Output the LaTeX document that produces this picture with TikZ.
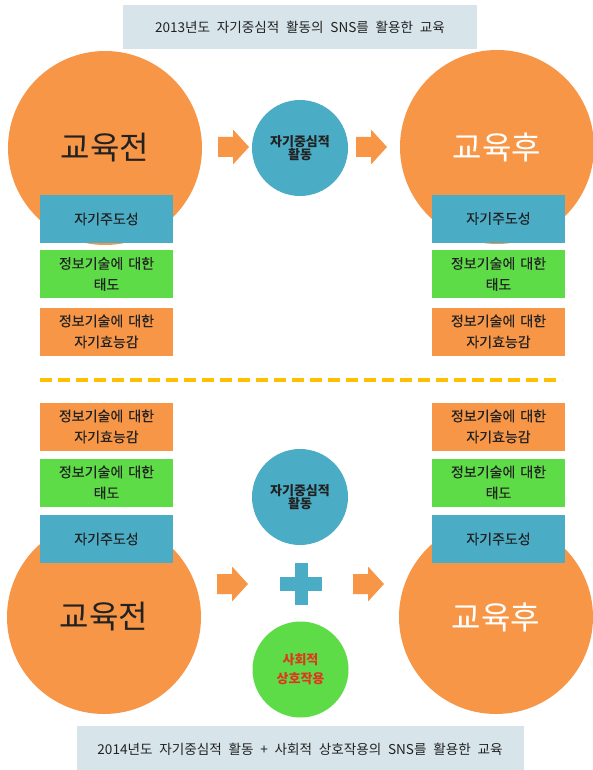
\documentclass[tikz,border=0pt]{standalone}
\usepackage{fontspec}
\setmainfont{Noto Sans CJK KR}[WordSpace=1.5]
\newfontfamily\boxfont{Noto Sans CJK KR}[WordSpace=1.6, FakeBold=0.3]
\newfontfamily\banfont{Noto Sans CJK KR}[WordSpace=2.2]
\usetikzlibrary{calc}
\definecolor{ora}{HTML}{F79646}
\definecolor{aqua}{HTML}{4BACC6}
\definecolor{grn}{HTML}{5EDC48}
\definecolor{ban}{HTML}{D7E5EB}
\definecolor{gold}{HTML}{FFC000}
\definecolor{txt}{HTML}{222222}
\definecolor{redt}{HTML}{E0361E}
\tikzset{
  bigcirc/.style={circle, fill=ora, minimum size=194pt, inner sep=0pt, font=\fontsize{32}{38}\selectfont},
  smallcirc/.style={circle, minimum size=96pt, inner sep=0pt, align=center, font=\fontsize{13}{13}\selectfont\bfseries, text=txt},
  infobox/.style={rectangle, minimum width=133pt, minimum height=48pt, inner sep=0pt, align=center, text=txt, font=\boxfont\fontsize{14}{21}\selectfont},
  banner/.style={rectangle, fill=ban, inner sep=0pt, text=txt, font=\banfont\fontsize{13.6}{15}\selectfont},
  blockarrow/.pic={\fill[ora] (-16,-10) -- (-1,-10) -- (-1,-17.5) -- (15,0) -- (-1,17.5) -- (-1,10) -- (-16,10) -- cycle;},
}
\begin{document}
\begin{tikzpicture}[x=1pt,y=-1pt]
\useasboundingbox (0,0) rectangle (593,770);
\fill[white] (0,0) rectangle (593,770);

% ---------- top section ----------
\node[banner, minimum width=354pt, minimum height=44pt] (tb) at (300,27) {2013년도 자기중심적 활동의 SNS를 활용한 교육};

\node[bigcirc, text=txt] (tpre) at (105,148) {교육전};
\node[bigcirc, text=white] (tpost) at (497,147) {교육후};
\node[smallcirc, fill=aqua] (tact) at (300,148) {자기중심적\\활동};

\pic at (234,147) {blockarrow};
\pic at (372,147) {blockarrow};

\node[infobox, fill=aqua] (tl1) at (106.5,219) {자기주도성};
\node[infobox, fill=grn] (tl2) at (106.5,274) {정보기술에 대한\\태도};
\node[infobox, fill=ora] (tl3) at (106.5,331.5) {정보기술에 대한\\자기효능감};

\node[infobox, fill=aqua] (tr1) at (498.5,218.5) {자기주도성};
\node[infobox, fill=grn] (tr2) at (498.5,274) {정보기술에 대한\\태도};
\node[infobox, fill=ora] (tr3) at (498.5,331.5) {정보기술에 대한\\자기효능감};

% ---------- divider ----------
\coordinate (d1) at (40,380);
\coordinate (d2) at (562,380);
\draw[gold, line width=3.5pt, dash pattern=on 12pt off 6pt] (d1) -- (d2);

% ---------- bottom section ----------
\node[bigcirc, text=txt] (bpre) at (104,617) {교육전};
\node[bigcirc, text=white] (bpost) at (496,617) {교육후};

\node[infobox, fill=ora] (bl3) at (106.5,426.5) {정보기술에 대한\\자기효능감};
\node[infobox, fill=grn] (bl2) at (106.5,482.5) {정보기술에 대한\\태도};
\node[infobox, fill=aqua] (bl1) at (106.5,539) {자기주도성};

\node[infobox, fill=ora] (br3) at (498.5,426.5) {정보기술에 대한\\자기효능감};
\node[infobox, fill=grn] (br2) at (498.5,482.5) {정보기술에 대한\\태도};
\node[infobox, fill=aqua] (br1) at (498.5,539) {자기주도성};

\node[smallcirc, fill=aqua] (bact) at (300,497) {자기중심적\\활동};
\node[smallcirc, fill=grn, text=redt, font=\fontsize{13}{19}\selectfont\bfseries] (bsoc) at (300.5,669.5) {사회적\\상호작용};

\pic at (233,584) {blockarrow};
\pic at (369,584) {blockarrow};

% plus sign
\coordinate (pl) at (301,584);
\fill[aqua] ($(pl)+(-21,-7)$) rectangle ($(pl)+(21,7)$);
\fill[aqua] ($(pl)+(-6.5,-21)$) rectangle ($(pl)+(6.5,21)$);

\node[banner, minimum width=447pt, minimum height=47pt] (bb) at (300,749) {2014년도 자기중심적 활동 + 사회적 상호작용의 SNS를 활용한 교육};
\end{tikzpicture}
\end{document}
